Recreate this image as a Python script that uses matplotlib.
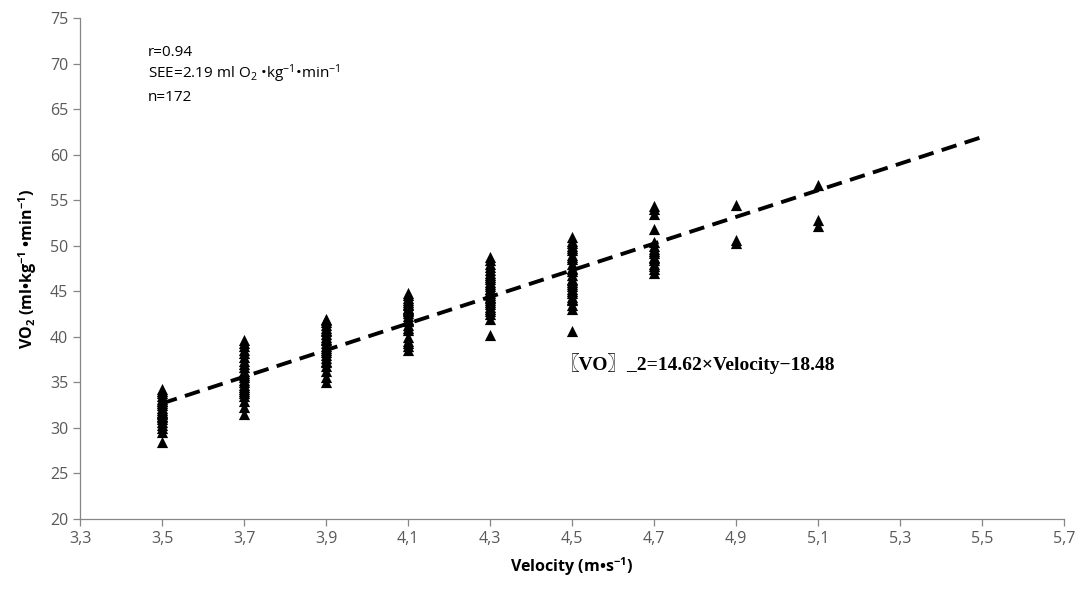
import matplotlib
matplotlib.use("Agg")
import matplotlib.pyplot as plt
import numpy as np

# ---- data ----
vel_35 = [28.5, 29.5, 30.0, 30.3, 30.7, 31.0, 31.2, 31.5, 31.8, 32.0, 32.2, 32.5,
          32.7, 33.0, 33.2, 33.5, 33.8, 34.0, 34.3, 31.3, 32.9, 31.6]
vel_37 = [31.5, 32.3, 33.0, 33.5, 34.0, 34.3, 34.7, 35.0, 35.3, 35.6, 36.0, 36.3,
          36.7, 37.0, 37.4, 37.8, 38.2, 38.6, 39.0, 39.3, 39.7, 35.8, 34.5, 33.8]
vel_39 = [35.0, 35.6, 36.2, 36.8, 37.2, 37.7, 38.0, 38.3, 38.6, 39.0, 39.3, 39.6,
          40.0, 40.3, 40.6, 41.0, 41.3, 41.6, 42.0, 38.8, 39.8, 37.4, 40.8, 41.8]
vel_41 = [38.5, 39.0, 39.5, 40.0, 40.8, 41.3, 41.7, 42.0, 42.3, 42.6, 42.9, 43.2,
          43.5, 43.8, 44.0, 44.3, 44.6, 44.8, 41.0, 42.8, 43.6, 39.3, 41.9, 43.0]
vel_43 = [40.2, 42.0, 42.5, 43.0, 43.3, 43.6, 44.0, 44.3, 44.6, 45.0, 45.3, 45.6,
          46.0, 46.3, 46.6, 47.0, 47.3, 47.7, 48.0, 48.4, 48.8, 43.8, 44.8, 45.8,
          46.8, 42.8, 44.4, 45.2]
vel_45 = [40.6, 43.0, 43.5, 44.0, 44.4, 44.8, 45.2, 45.6, 46.0, 46.4, 46.8, 47.2,
          47.6, 48.0, 48.5, 49.0, 49.5, 50.0, 50.5, 51.0, 45.0, 46.2, 47.4, 49.8,
          50.3, 44.2, 45.8, 48.8]
vel_47 = [47.0, 47.5, 48.0, 48.4, 48.8, 49.2, 49.6, 50.0, 50.4, 51.8, 53.5, 54.0,
          54.4, 48.6, 49.4, 47.8]
vel_49 = [54.5, 50.6, 50.3]
vel_51 = [56.7, 52.8, 52.2]

groups = {3.5: vel_35, 3.7: vel_37, 3.9: vel_39, 4.1: vel_41, 4.3: vel_43,
          4.5: vel_45, 4.7: vel_47, 4.9: vel_49, 5.1: vel_51}

slope = 14.62
intercept = -18.48
line_x = [3.5, 5.5]

x_ticks = [3.3, 3.5, 3.7, 3.9, 4.1, 4.3, 4.5, 4.7, 4.9, 5.1, 5.3, 5.5, 5.7]
x_ticklabels = ["3,3", "3,5", "3,7", "3,9", "4,1", "4,3", "4,5", "4,7", "4,9",
                "5,1", "5,3", "5,5", "5,7"]
y_ticks = list(range(20, 80, 5))

# ---- style ----
plt.rcParams['font.family'] = ['Open Sans', 'DejaVu Sans']
plt.rcParams['mathtext.fontset'] = 'custom'
plt.rcParams['mathtext.rm'] = 'Open Sans'
plt.rcParams['mathtext.bf'] = 'Open Sans:bold'
plt.rcParams['mathtext.it'] = 'Open Sans:italic'

fig = plt.figure(figsize=(10.86, 5.89), dpi=100)
ax = fig.add_axes([80/1086, 1 - 519/589, 984/1086, 501/589])

xs, ys = [], []
for v, vals in groups.items():
    xs += [v] * len(vals)
    ys += vals
ax.scatter(xs, ys, marker='^', s=65, color='black', linewidths=0, zorder=3)

lx = np.array(line_x)
ax.plot(lx, slope * lx + intercept, color='black', lw=2.8,
        linestyle=(0, (4.0, 2.2)), zorder=2)

ax.set_xlim(3.3, 5.7)
ax.set_ylim(20, 75)
ax.set_xticks(x_ticks)
ax.set_xticklabels(x_ticklabels)
ax.set_yticks(y_ticks)

for s in ['top', 'right']:
    ax.spines[s].set_visible(False)
for s in ['left', 'bottom']:
    ax.spines[s].set_color('#868686')
    ax.spines[s].set_linewidth(0.9)
ax.tick_params(axis='both', colors='#868686', labelcolor='#595959',
               labelsize=11.5, length=5, width=0.9)

ax.set_xlabel(r"Velocity (m•s$\mathbf{^{-1}}$)", fontsize=11.5,
              fontweight='bold', labelpad=6)
ax.set_ylabel(r"VO$\mathbf{_2}$ (ml•kg$\mathbf{^{-1}}$ •min$\mathbf{^{-1}}$)",
              fontsize=11.5, fontweight='bold', labelpad=8)

ax.text(0.069, 0.932, "r=0.94", transform=ax.transAxes, fontsize=11,
        va='center', ha='left')
ax.text(0.069, 0.888, r"SEE=2.19 ml O$_2$ •kg$^{-1}$•min$^{-1}$",
        transform=ax.transAxes, fontsize=11, va='center', ha='left')
ax.text(0.069, 0.842, "n=172", transform=ax.transAxes, fontsize=11,
        va='center', ha='left')

ax.text(4.47, 37.1, "〖VO〗_2=14.62×Velocity−18.48", fontsize=14,
        fontweight='bold', va='center', ha='left',
        family=['Liberation Serif', 'Noto Sans CJK SC', 'DejaVu Serif'])

fig.savefig("out.png", dpi=100)
